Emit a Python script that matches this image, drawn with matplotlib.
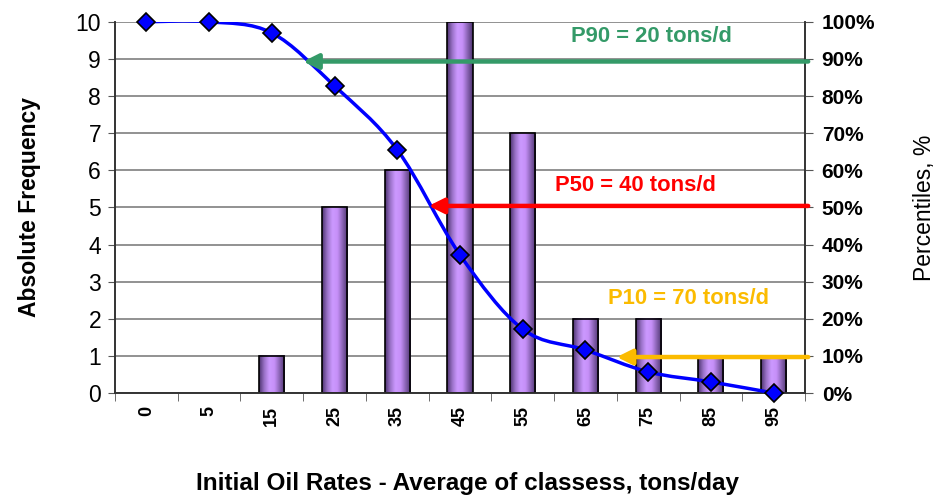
import numpy as np
import matplotlib.pyplot as plt
from matplotlib.path import Path
from matplotlib.patches import PathPatch
from matplotlib.colors import LinearSegmentedColormap

# Histogram of initial oil rates with percentile curve

plt.rcParams["font.family"] = ["Liberation Sans", "DejaVu Sans"]

classes = ["0", "5", "15", "25", "35", "45", "55", "65", "75", "85", "95"]
freq = [0, 0, 1, 5, 6, 10, 7, 2, 2, 1, 1]
pct = [100, 100, 97, 82.7, 65.5, 37.2, 17.2, 11.6, 5.7, 3.0, 0]

p_labels = ["P90 = 20 tons/d", "P50 = 40 tons/d", "P10 = 70 tons/d"]
p_level = [89.3, 50.4, 9.7]
p_pos = [2.5, 4.5, 7.5]
p_color = ["#349a68", "#ff0000", "#fbbb00"]
p_text_xy = [(8.05, 96.0), (7.8, 55.9), (8.65, 25.4)]

x = np.arange(len(classes))

fig = plt.figure(figsize=(9.35, 4.95), dpi=100)
ax1 = fig.add_axes([0.123, 0.206, 0.738, 0.750])
ax2 = ax1.twinx()

# bars with a shaded (cylinder-like) fill
cmap = LinearSegmentedColormap.from_list(
    "bar", ["#4e3470", "#9a72c8", "#cc99ff", "#c690f8", "#8a64b4", "#4e3470"])
grad = np.linspace(0, 1, 64).reshape(1, -1)
w = 0.4
for xi, f in zip(x, freq):
    if f <= 0:
        continue
    ax1.imshow(grad, cmap=cmap, aspect="auto", extent=(xi - w / 2, xi + w / 2, 0, f),
               zorder=2, interpolation="bicubic")
    ax1.add_patch(plt.Rectangle((xi - w / 2, 0), w, f, fill=False, ec="black", lw=1.2, zorder=3))

ax1.set_xlim(-0.5, len(classes) - 0.5)
ax1.set_ylim(0, 10)
ax1.set_yticks(range(0, 11))
ax1.grid(axis="y", color="#7f7f7f", lw=1.2, zorder=0)
ax1.set_axisbelow(True)
ax1.set_xticks(x)
ax1.set_xticklabels(classes, rotation=90, fontsize=13, fontweight="bold")
ax1.set_xticks(np.arange(-0.5, len(classes), 1), minor=True)
ax1.tick_params(axis="x", which="major", length=0, pad=9)
ax1.tick_params(axis="x", which="minor", length=6, color="#555555")
ax1.tick_params(axis="y", labelsize=16.5, length=5, color="#555555", pad=5)
ax1.set_ylabel("Absolute Frequency", fontsize=16.5, fontweight="bold", labelpad=25)

fig.text(0.5, 0.024, "Initial Oil Rates - Average of classess, tons/day", ha="center", va="center",
         fontsize=17.5, fontweight="bold")

for ax in (ax1, ax2):
    ax.spines["top"].set_visible(False)
    for s in ("left", "right", "bottom"):
        ax.spines[s].set_color("#333333")
        ax.spines[s].set_linewidth(1.2)

ax2.set_ylim(0, 100)
ax2.set_yticks(range(0, 101, 10))
ax2.set_yticklabels([f"{v}%" for v in range(0, 101, 10)], fontsize=15, fontweight="bold")
ax2.tick_params(axis="y", length=6, color="#555555", pad=6)
ax2.set_ylabel("Percentiles, %", fontsize=16.5, labelpad=27)

# smoothed percentile curve (cubic Bezier through the points)
pts = np.column_stack([x, pct]).astype(float)
verts = [tuple(pts[0])]
codes = [Path.MOVETO]
n = len(pts)
for i in range(n - 1):
    p0 = pts[max(i - 1, 0)]
    p1 = pts[i]
    p2 = pts[i + 1]
    p3 = pts[min(i + 2, n - 1)]
    c1 = p1 + (p2 - p0) / 6.0
    c2 = p2 - (p3 - p1) / 6.0
    verts += [tuple(c1), tuple(c2), tuple(p2)]
    codes += [Path.CURVE4] * 3
ax2.add_patch(PathPatch(Path(verts, codes), fill=False, ec="#0000ff", lw=2.5, zorder=4))
ax2.plot(x, pct, ls="none", marker="D", ms=9, mfc="#0000ff", mec="black", mew=1.2,
         zorder=5, clip_on=False)

# percentile arrows
for lab, lvl, pos, col, txy in zip(p_labels, p_level, p_pos, p_color, p_text_xy):
    ax2.annotate("", xy=(pos, lvl), xytext=(10.55, lvl),
                 arrowprops=dict(arrowstyle="-|>,head_length=0.9,head_width=0.45",
                                 color=col, lw=3.2, shrinkA=0, shrinkB=0), zorder=6)
    ax2.text(txy[0], txy[1], lab, color=col, fontsize=15.8, fontweight="bold",
             ha="center", va="center", zorder=6)

fig.savefig("out.png", dpi=100)
